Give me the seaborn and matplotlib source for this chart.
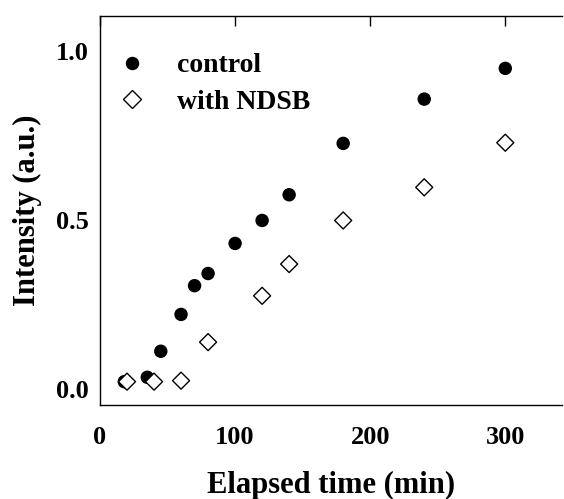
import pandas as pd
import matplotlib
matplotlib.use("Agg")
import matplotlib.pyplot as plt
import seaborn as sns

# --- data ---
control_time = [18, 35, 45, 60, 70, 80, 100, 120, 140, 180, 240, 300]
control_int = [0.022, 0.035, 0.112, 0.221, 0.306, 0.342, 0.431, 0.499, 0.575, 0.727, 0.858, 0.949]
ndsb_time = [20, 40, 60, 80, 120, 140, 180, 240, 300]
ndsb_int = [0.022, 0.022, 0.025, 0.139, 0.276, 0.370, 0.499, 0.597, 0.729]
x_ticks = [0, 100, 200, 300]
y_ticks = [0.0, 0.5, 1.0]

df = pd.concat([
    pd.DataFrame({"time": control_time, "intensity": control_int, "group": "control"}),
    pd.DataFrame({"time": ndsb_time, "intensity": ndsb_int, "group": "with NDSB"}),
], ignore_index=True)

sns.set_style("white")
plt.rcParams["font.family"] = ["Liberation Serif", "DejaVu Serif"]
plt.rcParams["font.weight"] = "bold"
plt.rcParams["text.color"] = "black"
plt.rcParams["axes.labelcolor"] = "black"
plt.rcParams["xtick.color"] = "black"
plt.rcParams["ytick.color"] = "black"

fig = plt.figure(figsize=(5.64, 4.99), dpi=100)
ax = fig.add_axes([0.1773, 0.1884, 0.8192, 0.7796])

sns.scatterplot(data=df, x="time", y="intensity", hue="group", style="group",
                palette={"control": "black", "with NDSB": "white"},
                markers={"control": "o", "with NDSB": "D"},
                s=75, edgecolor="black", linewidth=1.0, ax=ax, zorder=3)

ax.set_xlim(0, 342)
ax.set_ylim(-0.047, 1.104)
ax.set_xticks(x_ticks)
ax.set_yticks(y_ticks)
ax.set_yticklabels([f"{v:.1f}" for v in y_ticks])
ax.tick_params(axis="both", direction="in", length=7, width=1, labelsize=19,
               top=True, right=False)
ax.tick_params(axis="x", pad=15)
ax.tick_params(axis="y", pad=8)

for side in ["left", "bottom", "top"]:
    ax.spines[side].set_color("black")
    ax.spines[side].set_linewidth(1.0)
ax.spines["right"].set_visible(False)

ax.set_xlabel("Elapsed time (min)", fontsize=22, fontweight="bold", labelpad=16)
ax.set_ylabel("Intensity (a.u.)", fontsize=22, fontweight="bold", labelpad=10)

leg = ax.legend(loc="center left", bbox_to_anchor=(4 / 462, 0.825), frameon=False,
                fontsize=20, handlelength=2.0, handletextpad=0.62, labelspacing=0.4,
                borderpad=0, borderaxespad=0, markerscale=1.0)
for h in leg.legend_handles:
    h.set_markeredgecolor("black")

fig.savefig("out.png", dpi=100)
